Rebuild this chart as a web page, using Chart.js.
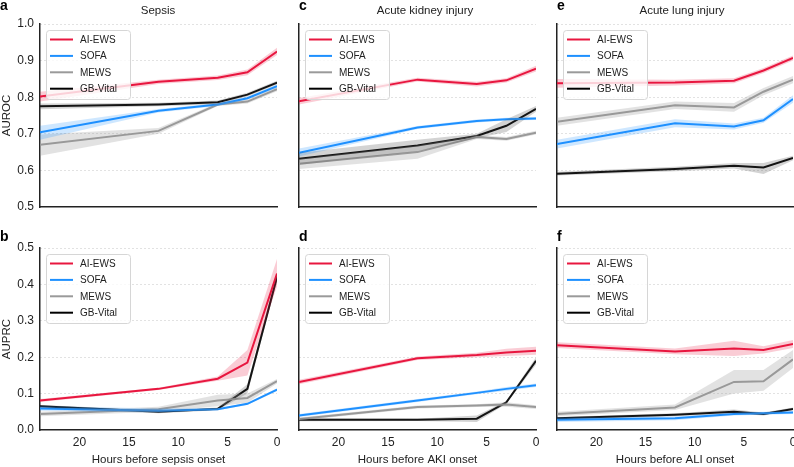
<!DOCTYPE html>
<html><head><meta charset="utf-8">
<script src="https://cdn.jsdelivr.net/npm/chart.js@4/dist/chart.umd.min.js"></script>
<style>
html,body{margin:0;padding:0;background:#fff;}
#wrap{position:relative;width:794px;height:467px;overflow:hidden;background:#fff;}
canvas{position:absolute;}
</style></head><body><div id="wrap"></div>
<script>
// ---------- DATA ----------
const hours = [24, 12, 6, 3, 0];
const xTicks = [20, 15, 10, 5, 0];
const aurocTicks = [0.5, 0.6, 0.7, 0.8, 0.9, 1.0];
const auprcTicks = [0.0, 0.1, 0.2, 0.3, 0.4, 0.5];
const seriesNames = ['AI-EWS', 'SOFA', 'MEWS', 'GB-Vital'];
const panelTitles = ['Sepsis', 'Acute kidney injury', 'Acute lung injury'];
const xTitles = ['Hours before sepsis onset', 'Hours before AKI onset', 'Hours before ALI onset'];

// Sepsis AUROC
const sepRocAI = [0.802, 0.842, 0.853, 0.868, 0.925];
const sepRocAILo = [0.788, 0.836, 0.847, 0.860, 0.915];
const sepRocAIHi = [0.815, 0.848, 0.859, 0.876, 0.935];
const sepRocSOFA = [0.704, 0.763, 0.780, 0.797, 0.830];
const sepRocSOFALo = [0.684, 0.758, 0.776, 0.793, 0.825];
const sepRocSOFAHi = [0.722, 0.768, 0.784, 0.801, 0.835];
const sepRocMEWS = [0.670, 0.708, 0.780, 0.788, 0.822];
const sepRocMEWSLo = [0.640, 0.700, 0.776, 0.783, 0.816];
const sepRocMEWSHi = [0.698, 0.716, 0.784, 0.793, 0.828];
const sepRocGB = [0.775, 0.780, 0.786, 0.807, 0.840];
const sepRocGBLo = [0.767, 0.775, 0.781, 0.802, 0.835];
const sepRocGBHi = [0.783, 0.785, 0.791, 0.812, 0.845];

// AKI AUROC
const akiRocAI = [0.789, 0.848, 0.836, 0.846, 0.878];
const akiRocAILo = [0.780, 0.843, 0.829, 0.840, 0.870];
const akiRocAIHi = [0.798, 0.853, 0.842, 0.852, 0.886];
const akiRocSOFA = [0.648, 0.717, 0.735, 0.740, 0.742];
const akiRocSOFALo = [0.638, 0.713, 0.731, 0.736, 0.738];
const akiRocSOFAHi = [0.660, 0.721, 0.739, 0.744, 0.746];
const akiRocMEWS = [0.618, 0.650, 0.691, 0.686, 0.703];
const akiRocMEWSLo = [0.604, 0.632, 0.686, 0.681, 0.698];
const akiRocMEWSHi = [0.632, 0.668, 0.696, 0.691, 0.708];
const akiRocGB = [0.632, 0.668, 0.694, 0.722, 0.768];
const akiRocGBLo = [0.615, 0.652, 0.688, 0.705, 0.760];
const akiRocGBHi = [0.648, 0.684, 0.700, 0.740, 0.776];

// ALI AUROC
const aliRocAI = [0.838, 0.840, 0.845, 0.873, 0.907];
const aliRocAILo = [0.826, 0.832, 0.838, 0.866, 0.900];
const aliRocAIHi = [0.850, 0.848, 0.852, 0.880, 0.914];
const aliRocSOFA = [0.672, 0.729, 0.720, 0.737, 0.795];
const aliRocSOFALo = [0.660, 0.718, 0.712, 0.730, 0.785];
const aliRocSOFAHi = [0.684, 0.740, 0.728, 0.744, 0.805];
const aliRocMEWS = [0.733, 0.778, 0.772, 0.815, 0.848];
const aliRocMEWSLo = [0.722, 0.768, 0.760, 0.805, 0.838];
const aliRocMEWSHi = [0.744, 0.788, 0.784, 0.825, 0.858];
const aliRocGB = [0.591, 0.604, 0.613, 0.608, 0.634];
const aliRocGBLo = [0.586, 0.598, 0.605, 0.590, 0.628];
const aliRocGBHi = [0.596, 0.610, 0.620, 0.620, 0.640];

// Sepsis AUPRC
const sepPrcAI = [0.081, 0.113, 0.141, 0.185, 0.430];
const sepPrcAILo = [0.077, 0.110, 0.135, 0.150, 0.395];
const sepPrcAIHi = [0.085, 0.116, 0.147, 0.220, 0.470];
const sepPrcSOFA = [0.059, 0.053, 0.057, 0.072, 0.111];
const sepPrcSOFALo = [0.053, 0.048, 0.054, 0.069, 0.107];
const sepPrcSOFAHi = [0.066, 0.059, 0.060, 0.075, 0.115];
const sepPrcMEWS = [0.044, 0.057, 0.081, 0.088, 0.134];
const sepPrcMEWSLo = [0.038, 0.050, 0.065, 0.075, 0.128];
const sepPrcMEWSHi = [0.050, 0.064, 0.097, 0.100, 0.140];
const sepPrcGB = [0.065, 0.050, 0.058, 0.113, 0.420];
const sepPrcGBLo = [0.061, 0.046, 0.054, 0.100, 0.410];
const sepPrcGBHi = [0.069, 0.054, 0.062, 0.126, 0.430];

// AKI AUPRC
const akiPrcAI = [0.132, 0.197, 0.206, 0.213, 0.218];
const akiPrcAILo = [0.126, 0.192, 0.200, 0.203, 0.207];
const akiPrcAIHi = [0.138, 0.202, 0.212, 0.223, 0.229];
const akiPrcSOFA = [0.040, 0.081, 0.102, 0.113, 0.123];
const akiPrcSOFALo = [0.036, 0.077, 0.098, 0.108, 0.118];
const akiPrcSOFAHi = [0.044, 0.085, 0.106, 0.118, 0.128];
const akiPrcMEWS = [0.030, 0.063, 0.067, 0.070, 0.063];
const akiPrcMEWSLo = [0.026, 0.059, 0.063, 0.064, 0.058];
const akiPrcMEWSHi = [0.034, 0.067, 0.071, 0.076, 0.068];
const akiPrcGB = [0.028, 0.028, 0.031, 0.076, 0.190];
const akiPrcGBLo = [0.024, 0.025, 0.022, 0.072, 0.180];
const akiPrcGBHi = [0.032, 0.031, 0.040, 0.080, 0.200];

// ALI AUPRC
const aliPrcAI = [0.233, 0.216, 0.224, 0.220, 0.236];
const aliPrcAILo = [0.225, 0.208, 0.203, 0.210, 0.225];
const aliPrcAIHi = [0.241, 0.224, 0.245, 0.230, 0.247];
const aliPrcSOFA = [0.028, 0.032, 0.044, 0.046, 0.048];
const aliPrcSOFALo = [0.022, 0.027, 0.040, 0.042, 0.044];
const aliPrcSOFAHi = [0.034, 0.037, 0.048, 0.050, 0.052];
const aliPrcMEWS = [0.044, 0.062, 0.132, 0.134, 0.194];
const aliPrcMEWSLo = [0.038, 0.055, 0.100, 0.108, 0.170];
const aliPrcMEWSHi = [0.050, 0.070, 0.165, 0.165, 0.220];
const aliPrcGB = [0.032, 0.042, 0.050, 0.044, 0.058];
const aliPrcGBLo = [0.028, 0.038, 0.045, 0.040, 0.054];
const aliPrcGBHi = [0.036, 0.046, 0.056, 0.048, 0.062];

// ---------- STYLE ----------
const FONT = "'Liberation Sans', Arial, Helvetica, sans-serif";
const TEXT = '#222';
const lineColors = ['#e8173f', '#1e90ff', '#9a9a9a', '#000000'];
const bandColors = ['rgba(232,23,63,0.22)', 'rgba(30,144,255,0.22)', 'rgba(150,150,150,0.28)', 'rgba(80,80,80,0.25)'];

const pts = arr => arr.map((v, i) => ({x: hours[i], y: v}));

function buildDatasets(means, los, his) {
  const ds = [];
  means.forEach((m, k) => {
    ds.push({data: pts(los[k]), borderColor: 'rgba(0,0,0,0)', borderWidth: 0, pointRadius: 0, fill: false});
    ds.push({data: pts(his[k]), borderColor: 'rgba(0,0,0,0)', borderWidth: 0, pointRadius: 0, fill: '-1', backgroundColor: bandColors[k]});
  });
  means.forEach((m, k) => {
    ds.push({data: pts(m), borderColor: lineColors[k], borderWidth: 2, pointRadius: 0, fill: false, tension: 0});
  });
  return ds;
}

const decoPlugin = {
  id: 'deco',
  afterDraw(chart, args, o) {
    const ctx = chart.ctx, ca = chart.chartArea;
    ctx.save();
    // panel letter
    ctx.fillStyle = '#000';
    ctx.font = 'bold 14px ' + FONT;
    ctx.textAlign = 'left'; ctx.textBaseline = 'alphabetic';
    ctx.fillText(o.letter, o.letterX, o.letterY);
    // panel title
    if (o.title) {
      ctx.fillStyle = TEXT;
      ctx.font = '11.5px ' + FONT;
      ctx.textAlign = 'center';
      ctx.fillText(o.title, o.titleX, o.titleY);
    }
    // legend
    const bx = ca.left + 6, by = ca.top + 6, bw = 84, bh = 69;
    ctx.fillStyle = 'rgba(255,255,255,0.8)';
    ctx.strokeStyle = '#d6d6d6';
    ctx.lineWidth = 1;
    ctx.beginPath();
    ctx.roundRect(bx + 0.5, by + 0.5, bw, bh, 3);
    ctx.fill(); ctx.stroke();
    ctx.font = '10px ' + FONT;
    ctx.textAlign = 'left'; ctx.textBaseline = 'middle';
    seriesNames.forEach((n, i) => {
      const yy = by + 9.5 + i * 16.4;
      ctx.strokeStyle = lineColors[i];
      ctx.lineWidth = 2;
      ctx.beginPath(); ctx.moveTo(bx + 4, yy); ctx.lineTo(bx + 27, yy); ctx.stroke();
      ctx.fillStyle = TEXT;
      ctx.fillText(n, bx + 34, yy + 0.5);
    });
    ctx.restore();
  }
};

const wrap = document.getElementById('wrap');

function makePanel(p) {
  const c = document.createElement('canvas');
  c.width = p.w; c.height = p.h;
  c.style.left = p.left + 'px'; c.style.top = p.top + 'px';
  c.style.width = p.w + 'px'; c.style.height = p.h + 'px';
  wrap.appendChild(c);
  const bottom = p.row === 1;
  const yt = bottom ? auprcTicks : aurocTicks;
  const ymin = yt[0], ymax = yt[yt.length - 1];
  new Chart(c, {
    type: 'line',
    data: {datasets: buildDatasets(p.means, p.los, p.his)},
    options: {
      responsive: false, animation: false, devicePixelRatio: 1, events: [],
      layout: {padding: {top: p.padTop, right: p.padRight, left: 0, bottom: 0}},
      plugins: {
        legend: {display: false}, tooltip: {enabled: false}, title: {display: false},
        deco: {letter: p.letter, letterX: p.letterX - p.left, letterY: p.letterY - p.top,
               title: p.title, titleX: p.titleX - p.left, titleY: 13.5}
      },
      scales: {
        x: {
          type: 'linear', reverse: true, min: 0, max: 24,
          afterBuildTicks: s => { s.ticks = xTicks.map(v => ({value: v})); },
          afterFit: s => { s.height = bottom ? 37 : 18; s.paddingLeft = 0; s.paddingRight = 0; },
          grid: {display: false, drawTicks: false},
          border: {display: true, color: '#222', width: 1.5},
          ticks: {display: bottom, padding: 5, color: TEXT, font: {family: FONT, size: 12}, maxRotation: 0, autoSkip: false,
                  callback: v => String(v)},
          title: {display: bottom, text: p.xTitle, color: TEXT, font: {family: FONT, size: 11.5}, padding: 0}
        },
        y: {
          type: 'linear', min: ymin, max: ymax,
          afterBuildTicks: s => { s.ticks = yt.map(v => ({value: v})); },
          afterFit: s => { s.width = p.yWidth; s.paddingTop = 0; s.paddingBottom = 0; },
          grid: {drawTicks: false, lineWidth: 1,
                 color: ctx => (ctx.tick && Math.abs(ctx.tick.value - ymin) < 1e-9) ? 'rgba(0,0,0,0)' : '#c4c4c4'},
          border: {display: true, color: '#222', width: 1.5, dash: [1, 3]},
          ticks: {display: p.showY, padding: 6, color: TEXT, font: {family: FONT, size: 12},
                  callback: v => Number(v).toFixed(1)},
          title: {display: p.showY, text: bottom ? 'AUPRC' : 'AUROC', color: TEXT, font: {family: FONT, size: 11.5}, padding: 0}
        }
      }
    },
    plugins: [decoPlugin]
  });
}

const cols = [
  {left: 0, w: 282, yWidth: 40, padRight: 5, showY: true, letterX: 0, titleX: 158},
  {left: 282, w: 258, yWidth: 17, padRight: 4, showY: false, letterX: 299, titleX: 425},
  {left: 540, w: 254, yWidth: 17, padRight: 1, showY: false, letterX: 557, titleX: 682}
];
const rows = [
  {top: 0, h: 225, padTop: 24, letters: ['a', 'c', 'e'], letterY: 9.5},
  {top: 230, h: 237, padTop: 18, letters: ['b', 'd', 'f'], letterY: 241}
];
const rocMeans = [[sepRocAI, sepRocSOFA, sepRocMEWS, sepRocGB], [akiRocAI, akiRocSOFA, akiRocMEWS, akiRocGB], [aliRocAI, aliRocSOFA, aliRocMEWS, aliRocGB]];
const rocLos = [[sepRocAILo, sepRocSOFALo, sepRocMEWSLo, sepRocGBLo], [akiRocAILo, akiRocSOFALo, akiRocMEWSLo, akiRocGBLo], [aliRocAILo, aliRocSOFALo, aliRocMEWSLo, aliRocGBLo]];
const rocHis = [[sepRocAIHi, sepRocSOFAHi, sepRocMEWSHi, sepRocGBHi], [akiRocAIHi, akiRocSOFAHi, akiRocMEWSHi, akiRocGBHi], [aliRocAIHi, aliRocSOFAHi, aliRocMEWSHi, aliRocGBHi]];
const prcMeans = [[sepPrcAI, sepPrcSOFA, sepPrcMEWS, sepPrcGB], [akiPrcAI, akiPrcSOFA, akiPrcMEWS, akiPrcGB], [aliPrcAI, aliPrcSOFA, aliPrcMEWS, aliPrcGB]];
const prcLos = [[sepPrcAILo, sepPrcSOFALo, sepPrcMEWSLo, sepPrcGBLo], [akiPrcAILo, akiPrcSOFALo, akiPrcMEWSLo, akiPrcGBLo], [aliPrcAILo, aliPrcSOFALo, aliPrcMEWSLo, aliPrcGBLo]];
const prcHis = [[sepPrcAIHi, sepPrcSOFAHi, sepPrcMEWSHi, sepPrcGBHi], [akiPrcAIHi, akiPrcSOFAHi, akiPrcMEWSHi, akiPrcGBHi], [aliPrcAIHi, aliPrcSOFAHi, aliPrcMEWSHi, aliPrcGBHi]];

rows.forEach((r, ri) => {
  cols.forEach((c, ci) => {
    makePanel({
      row: ri, left: c.left, top: r.top, w: c.w, h: r.h,
      yWidth: c.yWidth, padRight: c.padRight, padTop: r.padTop, showY: c.showY,
      letter: r.letters[ci], letterX: c.letterX, letterY: r.letterY,
      title: ri === 0 ? panelTitles[ci] : null, titleX: c.titleX,
      xTitle: xTitles[ci],
      means: ri === 0 ? rocMeans[ci] : prcMeans[ci],
      los: ri === 0 ? rocLos[ci] : prcLos[ci],
      his: ri === 0 ? rocHis[ci] : prcHis[ci]
    });
  });
});
</script></body></html>
